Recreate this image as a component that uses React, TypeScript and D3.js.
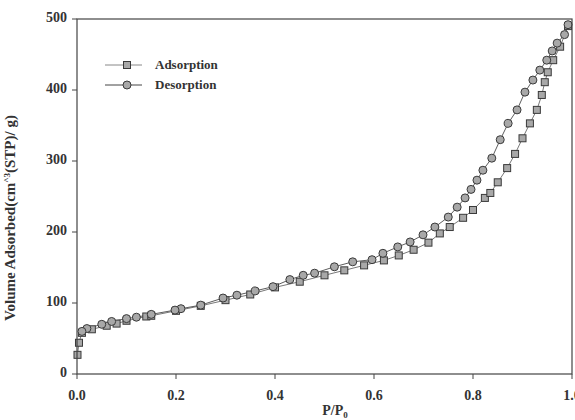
import * as d3 from "d3";

const ADS_X = [0.001, 0.004, 0.01, 0.03, 0.06, 0.08, 0.1, 0.14, 0.15, 0.2, 0.25, 0.3, 0.35, 0.4, 0.45, 0.5, 0.54, 0.58, 0.62, 0.65, 0.68, 0.71, 0.733, 0.753, 0.78, 0.8, 0.824, 0.835, 0.85, 0.869, 0.885, 0.9, 0.915, 0.929, 0.939, 0.945, 0.951, 0.962, 0.976, 0.992];
const ADS_Y = [27, 44, 58, 63, 68, 71, 75, 81, 82, 89, 96, 104, 112, 122, 130, 139, 146, 153, 160, 167, 175, 185, 198, 207, 220, 231, 248, 255, 270, 290, 310, 332, 353, 372, 393, 411, 425, 442, 461, 490];

const DES_X = [0.992, 0.985, 0.97, 0.96, 0.949, 0.935, 0.921, 0.905, 0.889, 0.871, 0.855, 0.838, 0.82, 0.808, 0.796, 0.784, 0.768, 0.75, 0.723, 0.699, 0.673, 0.648, 0.618, 0.596, 0.557, 0.52, 0.48, 0.457, 0.43, 0.396, 0.36, 0.323, 0.295, 0.25, 0.21, 0.198, 0.15, 0.12, 0.1, 0.07, 0.05, 0.02, 0.01];
const DES_Y = [492, 478, 466, 455, 442, 428, 414, 397, 372, 353, 330, 304, 287, 273, 260, 248, 235, 221, 207, 196, 186, 179, 170, 161, 158, 151, 142, 139, 133, 123, 117, 111, 107, 97, 92, 90, 84, 80, 78, 74, 70, 64, 60];

const X_TICKS = [0, 0.2, 0.4, 0.6, 0.8, 1.0];
const Y_TICKS = [0, 100, 200, 300, 400, 500];

const FONT = "'Liberation Serif', 'Times New Roman', serif";
const FILL = "#a8a8a8";
const STROKE = "#3a3a3a";

export default function App() {
  const width = 575;
  const height = 420;
  const margin = { top: 19, right: 3, bottom: 46, left: 77 };
  const plotW = width - margin.left - margin.right;
  const plotH = height - margin.top - margin.bottom;

  const x = d3.scaleLinear([0, 1], [margin.left, margin.left + plotW]);
  const y = d3.scaleLinear([0, 500], [margin.top + plotH, margin.top]);

  const ads = ADS_X.map((v, i) => [v, ADS_Y[i]] as [number, number]);
  const des = DES_X.map((v, i) => [v, DES_Y[i]] as [number, number]);
  const line = d3
    .line<[number, number]>()
    .x((d) => x(d[0]))
    .y((d) => y(d[1]));

  const bottom = margin.top + plotH;
  const sq = 7;

  return (
    <svg
      width={width}
      height={height}
      style={{ position: "absolute", left: 0, top: 0, background: "#fff" }}
      fontFamily={FONT}
    >
      <path d={line(ads) ?? ""} fill="none" stroke="#555" strokeWidth={0.8} />
      <path d={line(des) ?? ""} fill="none" stroke="#333" strokeWidth={0.8} />
      {ads.map((d, i) => (
        <rect
          key={`a${i}`}
          x={x(d[0]) - sq / 2}
          y={y(d[1]) - sq / 2}
          width={sq}
          height={sq}
          fill={FILL}
          stroke={STROKE}
          strokeWidth={1}
        />
      ))}
      {des.map((d, i) => (
        <circle
          key={`d${i}`}
          cx={x(d[0])}
          cy={y(d[1])}
          r={4}
          fill={FILL}
          stroke={STROKE}
          strokeWidth={1}
        />
      ))}
      <rect
        x={margin.left}
        y={margin.top}
        width={plotW}
        height={plotH}
        fill="none"
        stroke="#444"
        strokeWidth={1.2}
      />
      {X_TICKS.map((t) => (
        <g key={`x${t}`}>
          <line x1={x(t)} x2={x(t)} y1={bottom} y2={bottom + 5} stroke="#444" />
          <text
            x={x(t)}
            y={bottom + 26}
            textAnchor="middle"
            fontSize={14}
            fontWeight="bold"
            fill="#333"
          >
            {t.toFixed(1)}
          </text>
        </g>
      ))}
      {Y_TICKS.map((t) => (
        <g key={`y${t}`}>
          <line x1={margin.left - 5} x2={margin.left} y1={y(t)} y2={y(t)} stroke="#444" />
          <text
            x={margin.left - 10}
            y={y(t) + 3}
            textAnchor="end"
            fontSize={14}
            fontWeight="bold"
            fill="#333"
          >
            {t}
          </text>
        </g>
      ))}
      <text
        x={335}
        y={415}
        textAnchor="middle"
        fontSize={14}
        fontWeight="bold"
        fill="#333"
      >
        P/P<tspan fontSize={9} dy={3}>0</tspan>
      </text>
      <text
        x={15}
        y={218}
        textAnchor="middle"
        fontSize={15}
        fontWeight="bold"
        fill="#333"
        transform="rotate(-90 15 218)"
      >
        Volume Adsorbed(cm<tspan fontSize={9} dy={-5}>^3</tspan>
        <tspan dy={5}>(STP)/ g)</tspan>
      </text>
      <g>
        <line x1={105} x2={142} y1={65} y2={65} stroke="#888" />
        <rect x={127 - sq / 2} y={65 - sq / 2} width={sq} height={sq} fill={FILL} stroke={STROKE} />
        <text x={155} y={69} fontSize={13} fontWeight="bold" fill="#333">
          Adsorption
        </text>
        <line x1={105} x2={142} y1={85} y2={85} stroke="#444" />
        <circle cx={127} cy={85} r={4} fill={FILL} stroke={STROKE} />
        <text x={155} y={89} fontSize={13} fontWeight="bold" fill="#333">
          Desorption
        </text>
      </g>
    </svg>
  );
}
